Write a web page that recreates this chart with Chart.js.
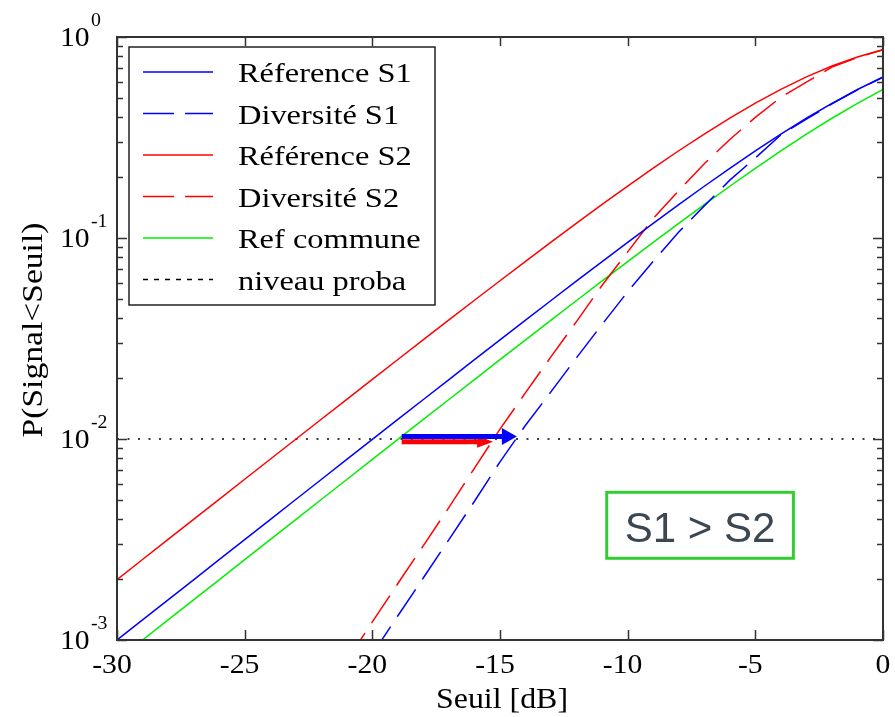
<!DOCTYPE html>
<html>
<head>
<meta charset="utf-8">
<script src="https://cdn.jsdelivr.net/npm/chart.js@4"></script>
<style>
  html, body { margin: 0; padding: 0; background: #fff; }
  canvas { display: block; }
</style>
</head>
<body>
<canvas id="probaChart" width="895" height="717"></canvas>
<script>
// Seuil en dB (axe x)
const seuil = [-30, -29, -28, -27, -26, -25, -24, -23, -22, -21, -20, -19, -18, -17, -16, -15,
  -14, -13, -12, -11, -10, -9, -8, -7, -6, -5, -4, -3, -2, -1, 0];

// P(Signal < Seuil)
const referenceS1 = [0.001, 0.001258, 0.001584, 0.001993, 0.002509, 0.003157, 0.003973, 0.004999,
  0.00629, 0.007912, 0.00995, 0.01251, 0.01572, 0.01975, 0.02481, 0.03113, 0.03903, 0.04888,
  0.06115, 0.07636, 0.09516, 0.1183, 0.1466, 0.1809, 0.2221, 0.2711, 0.3284, 0.3942, 0.4679,
  0.5481, 0.6321];
const diversiteS1 = [null, null, null, null, null, null, null, null, null, null, 0.00085, 0.00132,
  0.00204, 0.00316, 0.0049, 0.0077, 0.0117, 0.0172, 0.0254, 0.0372, 0.054, 0.0765, 0.107, 0.1445,
  0.194, 0.25, 0.326, 0.39, 0.465, 0.546, 0.631];
const referenceS2 = [0.001998, 0.002515, 0.003165, 0.003982, 0.005011, 0.006305, 0.00793, 0.009974,
  0.01254, 0.01576, 0.0198, 0.02487, 0.0312, 0.03911, 0.049, 0.06129, 0.07653, 0.09537, 0.1186,
  0.1469, 0.1813, 0.2226, 0.2717, 0.329, 0.3949, 0.4687, 0.549, 0.633, 0.7169, 0.7959, 0.8647];
const diversiteS2 = [null, null, null, null, null, null, null, null, null, 0.00079, 0.00123, 0.00191,
  0.00295, 0.00457, 0.00716, 0.0112, 0.017, 0.0257, 0.0385, 0.0582, 0.0853, 0.125, 0.172, 0.234,
  0.309, 0.398, 0.501, 0.596, 0.708, 0.792, 0.864];
const refCommune = [0.000794, 0.001, 0.001258, 0.001584, 0.001993, 0.002509, 0.003157, 0.003973,
  0.004999, 0.00629, 0.007912, 0.00995, 0.01251, 0.01572, 0.01975, 0.02481, 0.03113, 0.03903,
  0.04888, 0.06115, 0.07636, 0.09516, 0.1183, 0.1466, 0.1809, 0.2221, 0.2711, 0.3284, 0.3942,
  0.4679, 0.5481];
const niveauProba = 0.01;

// Flèches : gain de diversité au niveau 1e-2
const flecheDebut = -18.85;
const flecheFinS1 = -14.34;
const flecheFinS2 = -15.27;
const flecheNiveauS1 = 0.0103;
const flecheNiveauS2 = 0.0097;

// Encadré "S1 > S2" (unités des axes)
const encadreTexte = 'S1 > S2';
const encadreX = [-10.82, -3.51];
const encadreY = [0.00543, 0.00255];

const xTicks = [-30, -25, -20, -15, -10, -5, 0];
const yDecades = [-3, -2, -1, 0];

const SERIF = '"Liberation Serif", "Times New Roman", serif';

function points(values) {
  return seuil.map((x, i) => ({ x, y: values[i] })).filter(p => p.y !== null);
}

// Texte légèrement étiré en largeur, comme sur la figure d'origine
function drawText(ctx, str, x, y, font, align, stretch, rotate) {
  ctx.save();
  ctx.translate(x, y);
  if (rotate) ctx.rotate(rotate);
  ctx.scale(stretch, 1);
  ctx.font = font;
  ctx.textAlign = align;
  ctx.textBaseline = 'alphabetic';
  ctx.fillStyle = '#000';
  ctx.fillText(str, 0, 0);
  ctx.restore();
}

function drawArrow(ctx, x0, x1, y, color, headLen, headHalf) {
  ctx.save();
  ctx.fillStyle = color;
  ctx.strokeStyle = color;
  ctx.lineWidth = 5;
  ctx.beginPath();
  ctx.moveTo(x0, y);
  ctx.lineTo(x1 - headLen + 1, y);
  ctx.stroke();
  ctx.beginPath();
  ctx.moveTo(x1, y);
  ctx.lineTo(x1 - headLen, y - headHalf);
  ctx.lineTo(x1 - headLen, y + headHalf);
  ctx.closePath();
  ctx.fill();
  ctx.restore();
}

const figurePlugin = {
  id: 'figure',
  beforeDraw(chart) {
    const ctx = chart.ctx;
    ctx.save();
    ctx.fillStyle = '#fff';
    ctx.fillRect(0, 0, chart.width, chart.height);
    ctx.restore();
  },
  afterDatasetsDraw(chart) {
    const ctx = chart.ctx;
    const xs = chart.scales.x;
    const ys = chart.scales.y;
    const area = chart.chartArea;

    // flèches
    drawArrow(ctx, xs.getPixelForValue(flecheDebut), xs.getPixelForValue(flecheFinS2),
      ys.getPixelForValue(flecheNiveauS2), '#ff0000', 16, 6);
    drawArrow(ctx, xs.getPixelForValue(flecheDebut), xs.getPixelForValue(flecheFinS1),
      ys.getPixelForValue(flecheNiveauS1), '#0000ff', 15, 8.5);

    // cadre + graduations
    ctx.save();
    ctx.strokeStyle = '#333';
    ctx.lineWidth = 2;
    ctx.strokeRect(area.left, area.top, area.right - area.left, area.bottom - area.top);
    ctx.lineWidth = 1.5;
    ctx.beginPath();
    xTicks.forEach(v => {
      const px = Math.round(xs.getPixelForValue(v)) + 0.5;
      ctx.moveTo(px, area.bottom); ctx.lineTo(px, area.bottom - 10);
      ctx.moveTo(px, area.top); ctx.lineTo(px, area.top + 9);
    });
    yDecades.forEach(d => {
      const py = Math.round(ys.getPixelForValue(Math.pow(10, d))) + 0.5;
      ctx.moveTo(area.left, py); ctx.lineTo(area.left + 10, py);
      ctx.moveTo(area.right, py); ctx.lineTo(area.right - 10, py);
      if (d < 0) {
        for (let k = 2; k <= 9; k++) {
          const pm = Math.round(ys.getPixelForValue(k * Math.pow(10, d))) + 0.5;
          ctx.moveTo(area.left, pm); ctx.lineTo(area.left + 6, pm);
          ctx.moveTo(area.right, pm); ctx.lineTo(area.right - 6, pm);
        }
      }
    });
    ctx.stroke();
    ctx.restore();

    // étiquettes x
    const tickFont = `27px ${SERIF}`;
    xTicks.forEach(v => {
      const shift = v < 0 ? 5 : 0;
      drawText(ctx, String(v), xs.getPixelForValue(v) - shift, area.bottom + 33, tickFont, 'center', 1.1);
    });
    // étiquettes y : 10^n
    yDecades.forEach(d => {
      const py = ys.getPixelForValue(Math.pow(10, d));
      drawText(ctx, '10', 60, py + 9, tickFont, 'left', 1.1);
      drawText(ctx, String(d), 91, py - 11.5, `18px ${SERIF}`, 'left', 1.1);
    });

    // titres des axes
    drawText(ctx, 'Seuil [dB]', (area.left + area.right) / 2 + 2, 708, `29px ${SERIF}`, 'center', 1.1);
    drawText(ctx, 'P(Signal<Seuil)', 42, 330, `30px ${SERIF}`, 'center', 1.12, -Math.PI / 2);

    // légende
    const lg = { left: 129, top: 47, right: 435, bottom: 305 };
    ctx.save();
    ctx.fillStyle = '#fff';
    ctx.fillRect(lg.left, lg.top, lg.right - lg.left, lg.bottom - lg.top);
    ctx.strokeStyle = '#222';
    ctx.lineWidth = 1.5;
    ctx.strokeRect(lg.left, lg.top, lg.right - lg.left, lg.bottom - lg.top);
    ctx.restore();
    chart.data.datasets.forEach((ds, i) => {
      const y = 72 + i * 41.5;
      ctx.save();
      ctx.strokeStyle = ds.borderColor;
      ctx.lineWidth = 1.5;
      ctx.setLineDash(ds.legendDash || []);
      ctx.beginPath();
      ctx.moveTo(143, y);
      ctx.lineTo(213, y);
      ctx.stroke();
      ctx.restore();
      drawText(ctx, ds.label, 238, y + 10, `27px ${SERIF}`, 'left', 1.2);
    });

    // encadré
    const bx0 = xs.getPixelForValue(encadreX[0]);
    const bx1 = xs.getPixelForValue(encadreX[1]);
    const by0 = ys.getPixelForValue(encadreY[0]);
    const by1 = ys.getPixelForValue(encadreY[1]);
    ctx.save();
    ctx.strokeStyle = '#33cc33';
    ctx.lineWidth = 3;
    ctx.strokeRect(bx0, by0, bx1 - bx0, by1 - by0);
    ctx.font = '42px "Liberation Sans", Arial, sans-serif';
    ctx.fillStyle = '#3b4752';
    ctx.textAlign = 'center';
    ctx.textBaseline = 'alphabetic';
    ctx.fillText(encadreTexte, (bx0 + bx1) / 2, by1 - 16.5);
    ctx.restore();
  },
};

const ctx = document.getElementById('probaChart').getContext('2d');

new Chart(ctx, {
  type: 'line',
  data: {
    datasets: [
      { label: 'Réference S1', data: points(referenceS1), borderColor: '#0000ff' },
      { label: 'Diversité S1', data: points(diversiteS1), borderColor: '#0000ff',
        borderDash: [33, 12], legendDash: [31, 11] },
      { label: 'Référence S2', data: points(referenceS2), borderColor: '#ff0000' },
      { label: 'Diversité S2', data: points(diversiteS2), borderColor: '#ff0000',
        borderDash: [33, 12], legendDash: [31, 11] },
      { label: 'Ref commune', data: points(refCommune), borderColor: '#00ee00' },
      { label: 'niveau proba', data: [{ x: -30, y: niveauProba }, { x: 0, y: niveauProba }],
        borderColor: '#000', borderWidth: 1.6, borderDash: [2, 8.5], legendDash: [5, 6] },
    ],
  },
  options: {
    responsive: false,
    animation: false,
    events: [],
    layout: { padding: { left: 117, top: 37, right: 12, bottom: 77 } },
    elements: {
      point: { radius: 0 },
      line: { tension: 0, borderWidth: 1.5, fill: false },
    },
    scales: {
      x: { type: 'linear', min: -30, max: 0, display: false },
      y: { type: 'logarithmic', min: 0.001, max: 1, display: false },
    },
    plugins: {
      legend: { display: false },
      tooltip: { enabled: false },
    },
  },
  plugins: [figurePlugin],
});
</script>
</body>
</html>
